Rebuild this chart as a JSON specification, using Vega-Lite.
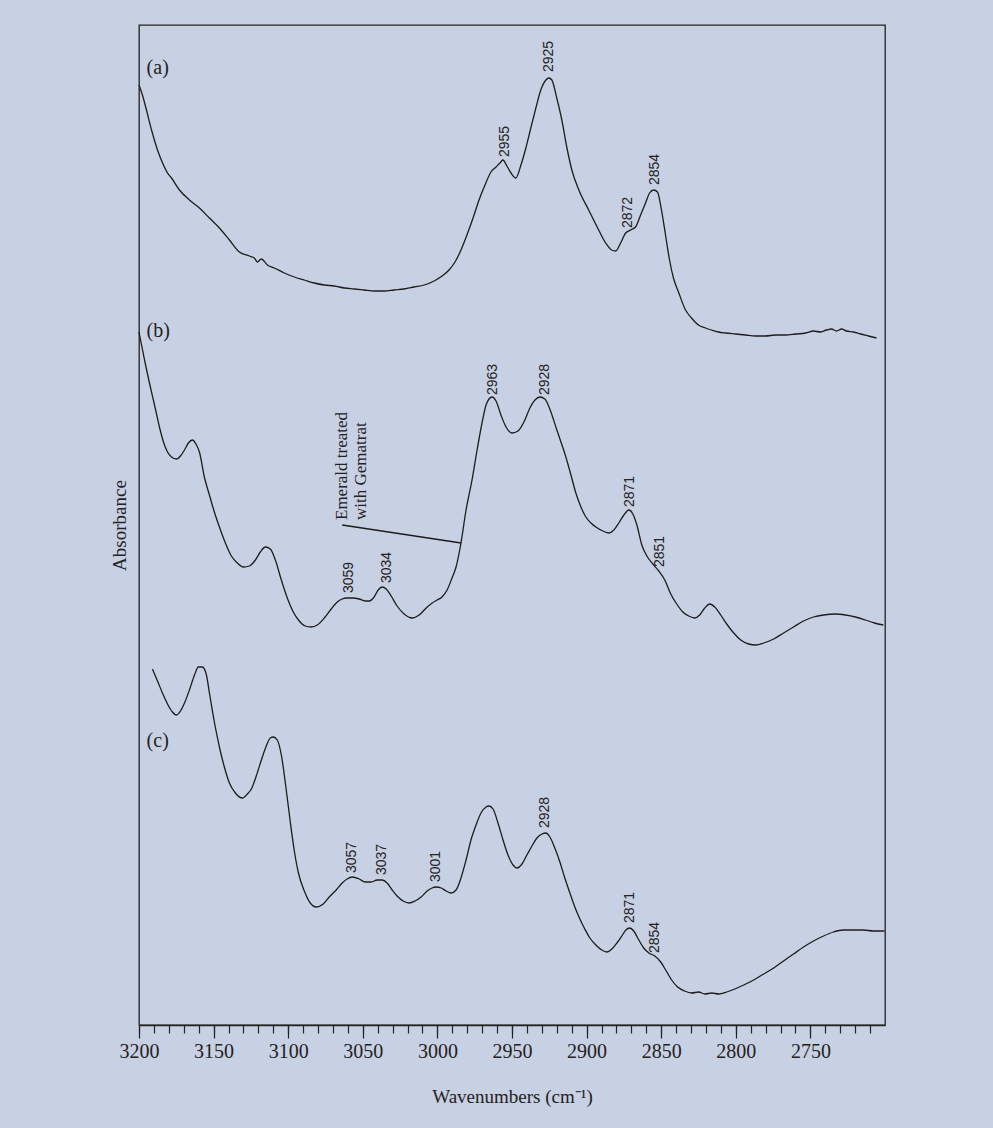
{
  "$schema": "https://vega.github.io/schema/vega-lite/v6.json",
  "width": 746,
  "height": 1000,
  "autosize": "none",
  "padding": {"left": 139, "top": 25, "right": 108, "bottom": 103},
  "background": "#c8d0e3",
  "config": {
    "view": {"stroke": "#222222", "strokeWidth": 1.3},
    "axis": {
      "grid": false,
      "domainColor": "#222222",
      "domainWidth": 1.3,
      "tickColor": "#222222",
      "tickWidth": 1.2,
      "labelColor": "#222222",
      "titleColor": "#222222",
      "labelFont": "Liberation Serif",
      "titleFont": "Liberation Serif",
      "titleFontWeight": "normal"
    }
  },
  "datasets": {
    "spectra": [
      {"s": "a", "wn": 3200, "A": 94.0}, {"s": "a", "wn": 3197.7, "A": 93.0}, {"s": "a", "wn": 3195.0, "A": 91.5},
      {"s": "a", "wn": 3191.6, "A": 89.5}, {"s": "a", "wn": 3187.6, "A": 87.5}, {"s": "a", "wn": 3183.6, "A": 86.0},
      {"s": "a", "wn": 3180.9, "A": 85.2}, {"s": "a", "wn": 3178.2, "A": 84.7}, {"s": "a", "wn": 3172.9, "A": 83.5},
      {"s": "a", "wn": 3166.2, "A": 82.5}, {"s": "a", "wn": 3159.5, "A": 81.7}, {"s": "a", "wn": 3152.8, "A": 80.7},
      {"s": "a", "wn": 3146.1, "A": 79.7}, {"s": "a", "wn": 3139.4, "A": 78.5}, {"s": "a", "wn": 3132.7, "A": 77.3},
      {"s": "a", "wn": 3126.0, "A": 76.9}, {"s": "a", "wn": 3122.7, "A": 76.7}, {"s": "a", "wn": 3120.7, "A": 76.3},
      {"s": "a", "wn": 3118.0, "A": 76.6}, {"s": "a", "wn": 3114.0, "A": 76.0}, {"s": "a", "wn": 3109.3, "A": 75.7},
      {"s": "a", "wn": 3102.6, "A": 75.2}, {"s": "a", "wn": 3095.9, "A": 74.8}, {"s": "a", "wn": 3089.2, "A": 74.5},
      {"s": "a", "wn": 3082.5, "A": 74.2}, {"s": "a", "wn": 3075.8, "A": 74.0}, {"s": "a", "wn": 3069.1, "A": 73.9},
      {"s": "a", "wn": 3062.4, "A": 73.7}, {"s": "a", "wn": 3055.8, "A": 73.6}, {"s": "a", "wn": 3049.1, "A": 73.5},
      {"s": "a", "wn": 3042.4, "A": 73.4}, {"s": "a", "wn": 3035.7, "A": 73.4}, {"s": "a", "wn": 3029.0, "A": 73.5},
      {"s": "a", "wn": 3022.3, "A": 73.6}, {"s": "a", "wn": 3015.6, "A": 73.8}, {"s": "a", "wn": 3008.9, "A": 74.0},
      {"s": "a", "wn": 3002.2, "A": 74.4}, {"s": "a", "wn": 2996.9, "A": 74.9}, {"s": "a", "wn": 2992.2, "A": 75.5},
      {"s": "a", "wn": 2988.2, "A": 76.3}, {"s": "a", "wn": 2984.2, "A": 77.5}, {"s": "a", "wn": 2980.2, "A": 79.0},
      {"s": "a", "wn": 2976.1, "A": 80.7}, {"s": "a", "wn": 2972.1, "A": 82.5}, {"s": "a", "wn": 2968.1, "A": 84.0},
      {"s": "a", "wn": 2964.1, "A": 85.3}, {"s": "a", "wn": 2960.7, "A": 85.8}, {"s": "a", "wn": 2958.1, "A": 86.2},
      {"s": "a", "wn": 2956.1, "A": 86.5}, {"s": "a", "wn": 2953.4, "A": 85.9}, {"s": "a", "wn": 2950.7, "A": 85.2},
      {"s": "a", "wn": 2947.4, "A": 84.7}, {"s": "a", "wn": 2944.0, "A": 86.0}, {"s": "a", "wn": 2940.7, "A": 87.7},
      {"s": "a", "wn": 2937.4, "A": 89.7}, {"s": "a", "wn": 2934.0, "A": 91.7}, {"s": "a", "wn": 2930.7, "A": 93.5},
      {"s": "a", "wn": 2927.3, "A": 94.5}, {"s": "a", "wn": 2925.3, "A": 94.7}, {"s": "a", "wn": 2923.3, "A": 94.5},
      {"s": "a", "wn": 2920.0, "A": 92.7}, {"s": "a", "wn": 2916.6, "A": 90.5}, {"s": "a", "wn": 2913.3, "A": 87.8},
      {"s": "a", "wn": 2909.9, "A": 85.5}, {"s": "a", "wn": 2905.2, "A": 83.5}, {"s": "a", "wn": 2898.6, "A": 81.5},
      {"s": "a", "wn": 2891.9, "A": 79.5}, {"s": "a", "wn": 2887.2, "A": 78.2}, {"s": "a", "wn": 2883.2, "A": 77.5},
      {"s": "a", "wn": 2880.5, "A": 77.4}, {"s": "a", "wn": 2877.2, "A": 78.2}, {"s": "a", "wn": 2873.8, "A": 79.2},
      {"s": "a", "wn": 2870.5, "A": 79.5}, {"s": "a", "wn": 2867.2, "A": 79.8}, {"s": "a", "wn": 2863.8, "A": 81.0},
      {"s": "a", "wn": 2860.5, "A": 82.2}, {"s": "a", "wn": 2857.8, "A": 83.2}, {"s": "a", "wn": 2855.1, "A": 83.5},
      {"s": "a", "wn": 2852.5, "A": 83.3}, {"s": "a", "wn": 2849.8, "A": 81.5}, {"s": "a", "wn": 2847.1, "A": 79.0},
      {"s": "a", "wn": 2844.4, "A": 76.5}, {"s": "a", "wn": 2841.8, "A": 74.7}, {"s": "a", "wn": 2838.4, "A": 73.3},
      {"s": "a", "wn": 2833.7, "A": 71.5}, {"s": "a", "wn": 2829.7, "A": 70.7}, {"s": "a", "wn": 2825.0, "A": 70.0},
      {"s": "a", "wn": 2820.3, "A": 69.7}, {"s": "a", "wn": 2816.3, "A": 69.5}, {"s": "a", "wn": 2811.6, "A": 69.3},
      {"s": "a", "wn": 2806.9, "A": 69.2}, {"s": "a", "wn": 2800.2, "A": 69.1}, {"s": "a", "wn": 2793.5, "A": 69.0},
      {"s": "a", "wn": 2786.8, "A": 68.9}, {"s": "a", "wn": 2780.1, "A": 68.9}, {"s": "a", "wn": 2773.4, "A": 69.0},
      {"s": "a", "wn": 2766.6, "A": 69.0}, {"s": "a", "wn": 2759.9, "A": 69.1}, {"s": "a", "wn": 2753.2, "A": 69.2},
      {"s": "a", "wn": 2747.9, "A": 69.4}, {"s": "a", "wn": 2743.2, "A": 69.3}, {"s": "a", "wn": 2739.2, "A": 69.5},
      {"s": "a", "wn": 2735.8, "A": 69.6}, {"s": "a", "wn": 2732.5, "A": 69.4}, {"s": "a", "wn": 2729.1, "A": 69.6},
      {"s": "a", "wn": 2725.8, "A": 69.4}, {"s": "a", "wn": 2721.1, "A": 69.3}, {"s": "a", "wn": 2716.4, "A": 69.1},
      {"s": "a", "wn": 2711.1, "A": 68.9}, {"s": "a", "wn": 2705.7, "A": 68.7},

      {"s": "b", "wn": 3200, "A": 69.3}, {"s": "b", "wn": 3198.3, "A": 68.0}, {"s": "b", "wn": 3195.6, "A": 66.0},
      {"s": "b", "wn": 3193.0, "A": 64.2}, {"s": "b", "wn": 3189.6, "A": 62.0}, {"s": "b", "wn": 3186.3, "A": 59.8},
      {"s": "b", "wn": 3183.6, "A": 58.3}, {"s": "b", "wn": 3180.9, "A": 57.3}, {"s": "b", "wn": 3178.2, "A": 56.8},
      {"s": "b", "wn": 3174.9, "A": 56.6}, {"s": "b", "wn": 3172.2, "A": 56.9}, {"s": "b", "wn": 3169.5, "A": 57.5},
      {"s": "b", "wn": 3166.9, "A": 58.2}, {"s": "b", "wn": 3164.2, "A": 58.5}, {"s": "b", "wn": 3161.5, "A": 58.0},
      {"s": "b", "wn": 3159.5, "A": 57.3}, {"s": "b", "wn": 3156.2, "A": 54.8}, {"s": "b", "wn": 3152.8, "A": 53.0},
      {"s": "b", "wn": 3149.5, "A": 51.3}, {"s": "b", "wn": 3146.1, "A": 49.8}, {"s": "b", "wn": 3142.1, "A": 48.2},
      {"s": "b", "wn": 3138.1, "A": 46.9}, {"s": "b", "wn": 3134.1, "A": 46.2}, {"s": "b", "wn": 3130.1, "A": 45.8},
      {"s": "b", "wn": 3126.0, "A": 45.9}, {"s": "b", "wn": 3122.0, "A": 46.5}, {"s": "b", "wn": 3118.7, "A": 47.3},
      {"s": "b", "wn": 3115.3, "A": 47.8}, {"s": "b", "wn": 3112.0, "A": 47.6}, {"s": "b", "wn": 3108.6, "A": 46.5},
      {"s": "b", "wn": 3104.6, "A": 44.5}, {"s": "b", "wn": 3100.6, "A": 42.7}, {"s": "b", "wn": 3096.6, "A": 41.3},
      {"s": "b", "wn": 3092.6, "A": 40.4}, {"s": "b", "wn": 3088.6, "A": 39.9}, {"s": "b", "wn": 3084.6, "A": 39.8},
      {"s": "b", "wn": 3080.5, "A": 40.0}, {"s": "b", "wn": 3075.8, "A": 40.7}, {"s": "b", "wn": 3071.2, "A": 41.6},
      {"s": "b", "wn": 3067.1, "A": 42.3}, {"s": "b", "wn": 3063.8, "A": 42.6}, {"s": "b", "wn": 3061.1, "A": 42.7},
      {"s": "b", "wn": 3057.1, "A": 42.7}, {"s": "b", "wn": 3052.4, "A": 42.6}, {"s": "b", "wn": 3048.4, "A": 42.4},
      {"s": "b", "wn": 3045.7, "A": 42.4}, {"s": "b", "wn": 3042.4, "A": 42.8}, {"s": "b", "wn": 3039.7, "A": 43.5},
      {"s": "b", "wn": 3037.0, "A": 43.8}, {"s": "b", "wn": 3034.3, "A": 43.6}, {"s": "b", "wn": 3031.0, "A": 42.9},
      {"s": "b", "wn": 3027.0, "A": 41.9}, {"s": "b", "wn": 3022.3, "A": 41.1}, {"s": "b", "wn": 3016.9, "A": 40.7},
      {"s": "b", "wn": 3012.2, "A": 41.0}, {"s": "b", "wn": 3007.5, "A": 41.7}, {"s": "b", "wn": 3003.5, "A": 42.2},
      {"s": "b", "wn": 3000.2, "A": 42.5}, {"s": "b", "wn": 2996.9, "A": 42.8}, {"s": "b", "wn": 2993.5, "A": 43.5},
      {"s": "b", "wn": 2990.2, "A": 44.7}, {"s": "b", "wn": 2987.5, "A": 45.8}, {"s": "b", "wn": 2984.2, "A": 48.2},
      {"s": "b", "wn": 2980.8, "A": 51.5}, {"s": "b", "wn": 2976.8, "A": 54.5}, {"s": "b", "wn": 2973.4, "A": 57.5},
      {"s": "b", "wn": 2970.1, "A": 60.2}, {"s": "b", "wn": 2967.4, "A": 62.0}, {"s": "b", "wn": 2965.4, "A": 62.6},
      {"s": "b", "wn": 2963.4, "A": 62.8}, {"s": "b", "wn": 2960.7, "A": 62.4}, {"s": "b", "wn": 2957.4, "A": 61.0},
      {"s": "b", "wn": 2954.0, "A": 59.8}, {"s": "b", "wn": 2950.0, "A": 59.2}, {"s": "b", "wn": 2946.0, "A": 59.4},
      {"s": "b", "wn": 2942.0, "A": 60.3}, {"s": "b", "wn": 2938.0, "A": 61.7}, {"s": "b", "wn": 2934.6, "A": 62.5},
      {"s": "b", "wn": 2931.3, "A": 62.8}, {"s": "b", "wn": 2928.0, "A": 62.6}, {"s": "b", "wn": 2923.9, "A": 61.3},
      {"s": "b", "wn": 2920.6, "A": 59.8}, {"s": "b", "wn": 2917.2, "A": 58.3}, {"s": "b", "wn": 2913.9, "A": 56.8},
      {"s": "b", "wn": 2910.5, "A": 55.0}, {"s": "b", "wn": 2907.2, "A": 53.2}, {"s": "b", "wn": 2903.8, "A": 51.8},
      {"s": "b", "wn": 2900.5, "A": 50.8}, {"s": "b", "wn": 2897.1, "A": 50.2}, {"s": "b", "wn": 2893.8, "A": 49.8},
      {"s": "b", "wn": 2889.1, "A": 49.4}, {"s": "b", "wn": 2885.1, "A": 49.2}, {"s": "b", "wn": 2881.7, "A": 49.5},
      {"s": "b", "wn": 2878.4, "A": 50.2}, {"s": "b", "wn": 2875.0, "A": 51.0}, {"s": "b", "wn": 2871.7, "A": 51.5},
      {"s": "b", "wn": 2869.0, "A": 51.1}, {"s": "b", "wn": 2866.3, "A": 50.0}, {"s": "b", "wn": 2863.0, "A": 48.0},
      {"s": "b", "wn": 2859.6, "A": 46.9}, {"s": "b", "wn": 2855.6, "A": 46.1}, {"s": "b", "wn": 2851.6, "A": 45.4},
      {"s": "b", "wn": 2847.6, "A": 44.5}, {"s": "b", "wn": 2843.6, "A": 43.1}, {"s": "b", "wn": 2839.6, "A": 42.1},
      {"s": "b", "wn": 2835.5, "A": 41.3}, {"s": "b", "wn": 2831.5, "A": 40.9}, {"s": "b", "wn": 2827.5, "A": 40.7},
      {"s": "b", "wn": 2824.2, "A": 41.0}, {"s": "b", "wn": 2820.8, "A": 41.7}, {"s": "b", "wn": 2817.5, "A": 42.1},
      {"s": "b", "wn": 2814.1, "A": 41.8}, {"s": "b", "wn": 2810.1, "A": 41.0}, {"s": "b", "wn": 2806.1, "A": 40.1},
      {"s": "b", "wn": 2801.4, "A": 39.2}, {"s": "b", "wn": 2796.7, "A": 38.5}, {"s": "b", "wn": 2791.4, "A": 38.1},
      {"s": "b", "wn": 2786.7, "A": 38.0}, {"s": "b", "wn": 2781.3, "A": 38.2}, {"s": "b", "wn": 2774.6, "A": 38.6},
      {"s": "b", "wn": 2768.0, "A": 39.2}, {"s": "b", "wn": 2761.3, "A": 39.8}, {"s": "b", "wn": 2754.6, "A": 40.4},
      {"s": "b", "wn": 2747.9, "A": 40.8}, {"s": "b", "wn": 2741.2, "A": 41.0}, {"s": "b", "wn": 2733.2, "A": 41.1},
      {"s": "b", "wn": 2726.5, "A": 41.0}, {"s": "b", "wn": 2719.8, "A": 40.8}, {"s": "b", "wn": 2713.1, "A": 40.5},
      {"s": "b", "wn": 2707.1, "A": 40.2}, {"s": "b", "wn": 2701.1, "A": 40.0},

      {"s": "c", "wn": 3191.0, "A": 35.6}, {"s": "c", "wn": 3187.6, "A": 34.4}, {"s": "c", "wn": 3184.3, "A": 33.2},
      {"s": "c", "wn": 3180.9, "A": 32.1}, {"s": "c", "wn": 3177.6, "A": 31.3}, {"s": "c", "wn": 3174.9, "A": 31.0},
      {"s": "c", "wn": 3172.2, "A": 31.4}, {"s": "c", "wn": 3169.5, "A": 32.2}, {"s": "c", "wn": 3166.2, "A": 33.5},
      {"s": "c", "wn": 3162.8, "A": 35.0}, {"s": "c", "wn": 3160.2, "A": 35.8}, {"s": "c", "wn": 3157.5, "A": 35.8},
      {"s": "c", "wn": 3154.8, "A": 35.0}, {"s": "c", "wn": 3152.8, "A": 33.2}, {"s": "c", "wn": 3149.5, "A": 30.3},
      {"s": "c", "wn": 3146.1, "A": 27.8}, {"s": "c", "wn": 3142.8, "A": 25.8}, {"s": "c", "wn": 3139.4, "A": 24.2},
      {"s": "c", "wn": 3135.4, "A": 23.2}, {"s": "c", "wn": 3130.7, "A": 22.7}, {"s": "c", "wn": 3127.4, "A": 23.1},
      {"s": "c", "wn": 3124.7, "A": 23.6}, {"s": "c", "wn": 3121.4, "A": 24.9}, {"s": "c", "wn": 3118.0, "A": 26.5},
      {"s": "c", "wn": 3114.7, "A": 27.9}, {"s": "c", "wn": 3112.0, "A": 28.7}, {"s": "c", "wn": 3110.0, "A": 28.8},
      {"s": "c", "wn": 3107.3, "A": 28.5}, {"s": "c", "wn": 3104.6, "A": 27.0}, {"s": "c", "wn": 3101.3, "A": 23.5},
      {"s": "c", "wn": 3098.6, "A": 20.3}, {"s": "c", "wn": 3096.0, "A": 17.5}, {"s": "c", "wn": 3093.3, "A": 15.3},
      {"s": "c", "wn": 3089.2, "A": 13.4}, {"s": "c", "wn": 3085.2, "A": 12.2}, {"s": "c", "wn": 3081.2, "A": 11.8},
      {"s": "c", "wn": 3076.5, "A": 12.1}, {"s": "c", "wn": 3072.5, "A": 12.8}, {"s": "c", "wn": 3067.8, "A": 13.5},
      {"s": "c", "wn": 3063.8, "A": 14.2}, {"s": "c", "wn": 3060.5, "A": 14.6}, {"s": "c", "wn": 3057.1, "A": 14.8},
      {"s": "c", "wn": 3052.4, "A": 14.6}, {"s": "c", "wn": 3048.4, "A": 14.3}, {"s": "c", "wn": 3044.4, "A": 14.3},
      {"s": "c", "wn": 3040.4, "A": 14.5}, {"s": "c", "wn": 3037.0, "A": 14.5}, {"s": "c", "wn": 3033.7, "A": 14.2},
      {"s": "c", "wn": 3030.3, "A": 13.5}, {"s": "c", "wn": 3027.0, "A": 12.9}, {"s": "c", "wn": 3023.0, "A": 12.4},
      {"s": "c", "wn": 3019.0, "A": 12.2}, {"s": "c", "wn": 3015.0, "A": 12.4}, {"s": "c", "wn": 3010.9, "A": 12.8},
      {"s": "c", "wn": 3006.9, "A": 13.4}, {"s": "c", "wn": 3003.6, "A": 13.7}, {"s": "c", "wn": 3000.9, "A": 13.8},
      {"s": "c", "wn": 2997.5, "A": 13.7}, {"s": "c", "wn": 2994.2, "A": 13.4}, {"s": "c", "wn": 2990.8, "A": 13.2},
      {"s": "c", "wn": 2987.5, "A": 13.5}, {"s": "c", "wn": 2984.2, "A": 14.7}, {"s": "c", "wn": 2980.8, "A": 16.5},
      {"s": "c", "wn": 2977.5, "A": 18.5}, {"s": "c", "wn": 2974.1, "A": 20.0}, {"s": "c", "wn": 2970.8, "A": 21.2},
      {"s": "c", "wn": 2967.4, "A": 21.8}, {"s": "c", "wn": 2965.4, "A": 21.9}, {"s": "c", "wn": 2962.7, "A": 21.6},
      {"s": "c", "wn": 2959.4, "A": 20.2}, {"s": "c", "wn": 2956.0, "A": 18.5}, {"s": "c", "wn": 2952.7, "A": 17.0},
      {"s": "c", "wn": 2949.3, "A": 16.0}, {"s": "c", "wn": 2946.7, "A": 15.7}, {"s": "c", "wn": 2943.3, "A": 16.1},
      {"s": "c", "wn": 2940.0, "A": 17.0}, {"s": "c", "wn": 2936.6, "A": 17.9}, {"s": "c", "wn": 2933.3, "A": 18.7},
      {"s": "c", "wn": 2929.9, "A": 19.1}, {"s": "c", "wn": 2927.3, "A": 19.2}, {"s": "c", "wn": 2924.6, "A": 18.8},
      {"s": "c", "wn": 2921.3, "A": 17.7}, {"s": "c", "wn": 2917.9, "A": 16.3}, {"s": "c", "wn": 2914.6, "A": 14.7},
      {"s": "c", "wn": 2911.2, "A": 13.2}, {"s": "c", "wn": 2907.9, "A": 11.8}, {"s": "c", "wn": 2904.5, "A": 10.6},
      {"s": "c", "wn": 2901.2, "A": 9.6}, {"s": "c", "wn": 2897.8, "A": 8.7}, {"s": "c", "wn": 2893.8, "A": 8.0},
      {"s": "c", "wn": 2889.8, "A": 7.5}, {"s": "c", "wn": 2886.4, "A": 7.3}, {"s": "c", "wn": 2883.1, "A": 7.6},
      {"s": "c", "wn": 2879.7, "A": 8.2}, {"s": "c", "wn": 2876.4, "A": 8.9}, {"s": "c", "wn": 2873.7, "A": 9.5},
      {"s": "c", "wn": 2871.0, "A": 9.7}, {"s": "c", "wn": 2868.4, "A": 9.4}, {"s": "c", "wn": 2865.0, "A": 8.5},
      {"s": "c", "wn": 2861.7, "A": 7.7}, {"s": "c", "wn": 2858.3, "A": 7.2}, {"s": "c", "wn": 2854.3, "A": 6.9},
      {"s": "c", "wn": 2850.3, "A": 6.3}, {"s": "c", "wn": 2847.0, "A": 5.5}, {"s": "c", "wn": 2843.0, "A": 4.5},
      {"s": "c", "wn": 2839.0, "A": 3.8}, {"s": "c", "wn": 2834.3, "A": 3.4}, {"s": "c", "wn": 2829.6, "A": 3.2},
      {"s": "c", "wn": 2824.9, "A": 3.3}, {"s": "c", "wn": 2820.8, "A": 3.1}, {"s": "c", "wn": 2816.1, "A": 3.2},
      {"s": "c", "wn": 2811.4, "A": 3.1}, {"s": "c", "wn": 2806.1, "A": 3.3}, {"s": "c", "wn": 2800.7, "A": 3.6},
      {"s": "c", "wn": 2794.7, "A": 4.0}, {"s": "c", "wn": 2788.0, "A": 4.5}, {"s": "c", "wn": 2781.3, "A": 5.1},
      {"s": "c", "wn": 2774.6, "A": 5.7}, {"s": "c", "wn": 2768.0, "A": 6.4}, {"s": "c", "wn": 2761.3, "A": 7.1},
      {"s": "c", "wn": 2754.6, "A": 7.8}, {"s": "c", "wn": 2747.9, "A": 8.4}, {"s": "c", "wn": 2741.2, "A": 8.9},
      {"s": "c", "wn": 2734.5, "A": 9.3}, {"s": "c", "wn": 2727.9, "A": 9.5}, {"s": "c", "wn": 2721.1, "A": 9.5},
      {"s": "c", "wn": 2714.5, "A": 9.5}, {"s": "c", "wn": 2707.8, "A": 9.4}, {"s": "c", "wn": 2700.4, "A": 9.4}
    ],
    "peaks": [
      {"s": "a", "wn": 2955, "A": 86.8}, {"s": "a", "wn": 2925, "A": 95.3},
      {"s": "a", "wn": 2872, "A": 79.7}, {"s": "a", "wn": 2854, "A": 84.0},
      {"s": "b", "wn": 3059, "A": 43.2}, {"s": "b", "wn": 3034, "A": 44.2},
      {"s": "b", "wn": 2963, "A": 63.0}, {"s": "b", "wn": 2928, "A": 63.0},
      {"s": "b", "wn": 2871, "A": 51.8}, {"s": "b", "wn": 2851, "A": 45.8},
      {"s": "c", "wn": 3057, "A": 15.2}, {"s": "c", "wn": 3037, "A": 15.0},
      {"s": "c", "wn": 3001, "A": 14.3}, {"s": "c", "wn": 2928, "A": 19.7},
      {"s": "c", "wn": 2871, "A": 10.2}, {"s": "c", "wn": 2854, "A": 7.2}
    ],
    "panels": [
      {"name": "(a)", "wn": 3194.9, "A": 95.7},
      {"name": "(b)", "wn": 3194.9, "A": 69.4},
      {"name": "(c)", "wn": 3194.9, "A": 28.4}
    ],
    "leader": [
      {"wn": 3063.8, "A": 50.0, "wn2": 2984.1, "A2": 48.2}
    ],
    "note": [
      {"text": "Emerald treated", "wn": 3064.0, "A": 50.5},
      {"text": "with Gematrat", "wn": 3051.3, "A": 50.5}
    ]
  },
  "layer": [
    {
      "data": {"name": "spectra"},
      "mark": {"type": "line", "interpolate": "monotone", "color": "#1c1c1c", "strokeWidth": 1.3},
      "encoding": {
        "x": {
          "field": "wn", "type": "quantitative",
          "scale": {"domain": [2700, 3200], "reverse": true, "nice": false, "zero": false},
          "axis": {
            "orient": "bottom",
            "values": [3200, 3150, 3100, 3050, 3000, 2950, 2900, 2850, 2800, 2750],
            "format": "d", "tickSize": 13, "labelFontSize": 20, "labelPadding": 3,
            "labelFlush": false, "labelOverlap": false, "labelBound": false,
            "title": "Wavenumbers (cm⁻¹)", "titleFontSize": 19, "titlePadding": 26
          }
        },
        "y": {
          "field": "A", "type": "quantitative",
          "scale": {"domain": [0, 100], "nice": false, "zero": false},
          "axis": {
            "labels": false, "ticks": false, "domain": false,
            "title": "Absorbance", "titleFontSize": 19, "titlePadding": 10
          }
        },
        "detail": {"field": "s"}
      }
    },
    {
      "data": {"name": "peaks"},
      "mark": {"type": "text", "angle": 270, "align": "left", "baseline": "middle",
               "font": "Liberation Sans", "fontSize": 14, "color": "#222222"},
      "encoding": {
        "x": {
          "field": "wn", "type": "quantitative",
          "axis": {
            "orient": "bottom",
            "values": [3200, 3190, 3180, 3170, 3160, 3150, 3140, 3130, 3120, 3110, 3100, 3090, 3080, 3070, 3060, 3050, 3040, 3030, 3020, 3010, 3000, 2990, 2980, 2970, 2960, 2950, 2940, 2930, 2920, 2910, 2900, 2890, 2880, 2870, 2860, 2850, 2840, 2830, 2820, 2810, 2800, 2790, 2780, 2770, 2760, 2750, 2740, 2730, 2720, 2710],
            "labels": false, "tickSize": 8, "domain": false, "title": null
          }
        },
        "y": {"field": "A", "type": "quantitative"},
        "text": {"field": "wn", "type": "quantitative", "format": "d"}
      }
    },
    {
      "data": {"name": "panels"},
      "mark": {"type": "text", "align": "left", "baseline": "middle",
               "font": "Liberation Serif", "fontSize": 20, "color": "#222222"},
      "encoding": {
        "x": {"field": "wn", "type": "quantitative", "axis": null},
        "y": {"field": "A", "type": "quantitative"},
        "text": {"field": "name"}
      }
    },
    {
      "data": {"name": "leader"},
      "mark": {"type": "rule", "color": "#1c1c1c", "strokeWidth": 1.3},
      "encoding": {
        "x": {"field": "wn", "type": "quantitative", "axis": null},
        "x2": {"field": "wn2"},
        "y": {"field": "A", "type": "quantitative"},
        "y2": {"field": "A2"}
      }
    },
    {
      "data": {"name": "note"},
      "mark": {"type": "text", "angle": 270, "align": "left", "baseline": "middle",
               "font": "Liberation Serif", "fontSize": 17, "color": "#222222"},
      "encoding": {
        "x": {"field": "wn", "type": "quantitative", "axis": null},
        "y": {"field": "A", "type": "quantitative"},
        "text": {"field": "text"}
      }
    }
  ],
  "resolve": {"axis": {"x": "independent"}}
}
